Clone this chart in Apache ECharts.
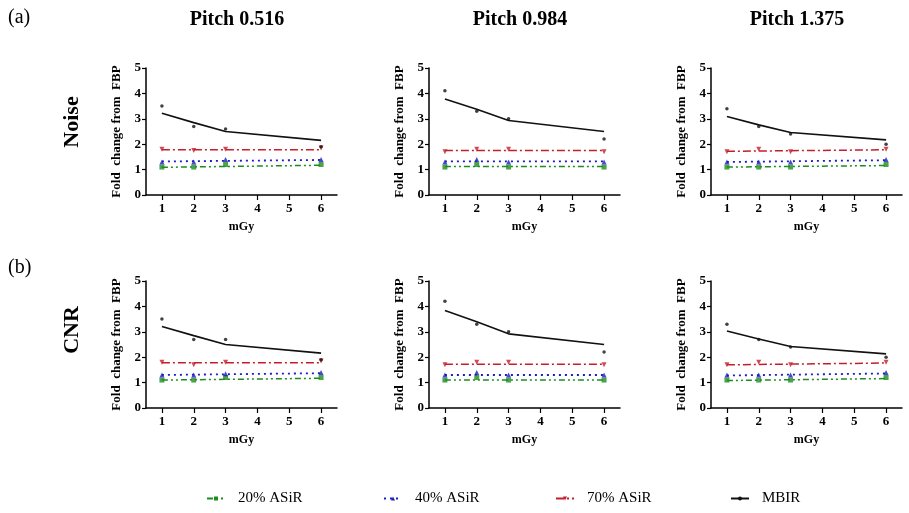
<!DOCTYPE html>
<html>
<head>
<meta charset="utf-8">
<script src="https://cdn.jsdelivr.net/npm/echarts@6/dist/echarts.min.js"></script>
<style>html,body{margin:0;padding:0;background:#fff;}#c{width:909px;height:513px;}</style>
</head>
<body>
<div id="c"></div>
<script>
// ---- data ----
const doses = [1, 2, 3, 6];
const fitDosesAsir = [1, 6];
const fitDosesMbir = [1, 2, 3, 6];
const doseTicks = [1, 2, 3, 4, 5, 6];
const yTicks = [0, 1, 2, 3, 4, 5];
const seriesNames = ['20% ASiR', '40% ASiR', '70% ASiR', 'MBIR'];
const pitchTitles = ['Pitch 0.516', 'Pitch 0.984', 'Pitch 1.375'];
const rowTitles = ['Noise', 'CNR'];
const panelTags = ['(a)', '(b)'];

// Noise, pitch 0.516
const noiseP0516_20 = [1.1, 1.1, 1.2, 1.2];
const noiseP0516_40 = [1.3, 1.3, 1.4, 1.4];
const noiseP0516_70 = [1.8, 1.75, 1.8, 1.85];
const noiseP0516_mbir = [3.5, 2.7, 2.6, 1.9];
const noiseP0516_fit20 = [1.09, 1.17];
const noiseP0516_fit40 = [1.32, 1.38];
const noiseP0516_fit70 = [1.78, 1.78];
const noiseP0516_fitMbir = [3.22, 2.85, 2.5, 2.15];
// Noise, pitch 0.984
const noiseP0984_20 = [1.1, 1.2, 1.1, 1.1];
const noiseP0984_40 = [1.3, 1.4, 1.3, 1.3];
const noiseP0984_70 = [1.7, 1.8, 1.8, 1.7];
const noiseP0984_mbir = [4.1, 3.3, 3.0, 2.2];
const noiseP0984_fit20 = [1.12, 1.12];
const noiseP0984_fit40 = [1.32, 1.32];
const noiseP0984_fit70 = [1.75, 1.75];
const noiseP0984_fitMbir = [3.78, 3.38, 2.93, 2.5];
// Noise, pitch 1.375
const noiseP1375_20 = [1.1, 1.1, 1.1, 1.2];
const noiseP1375_40 = [1.3, 1.3, 1.3, 1.4];
const noiseP1375_70 = [1.7, 1.8, 1.7, 1.8];
const noiseP1375_mbir = [3.4, 2.7, 2.4, 2.0];
const noiseP1375_fit20 = [1.1, 1.16];
const noiseP1375_fit40 = [1.3, 1.37];
const noiseP1375_fit70 = [1.72, 1.78];
const noiseP1375_fitMbir = [3.09, 2.76, 2.46, 2.17];
// CNR, pitch 0.516
const cnrP0516_20 = [1.1, 1.1, 1.2, 1.2];
const cnrP0516_40 = [1.3, 1.3, 1.35, 1.4];
const cnrP0516_70 = [1.8, 1.7, 1.8, 1.85];
const cnrP0516_mbir = [3.5, 2.7, 2.7, 1.9];
const cnrP0516_fit20 = [1.1, 1.17];
const cnrP0516_fit40 = [1.3, 1.37];
const cnrP0516_fit70 = [1.78, 1.78];
const cnrP0516_fitMbir = [3.21, 2.85, 2.5, 2.16];
// CNR, pitch 0.984
const cnrP0984_20 = [1.1, 1.2, 1.1, 1.1];
const cnrP0984_40 = [1.3, 1.4, 1.3, 1.3];
const cnrP0984_70 = [1.7, 1.8, 1.8, 1.7];
const cnrP0984_mbir = [4.2, 3.3, 3.0, 2.2];
const cnrP0984_fit20 = [1.1, 1.1];
const cnrP0984_fit40 = [1.3, 1.3];
const cnrP0984_fit70 = [1.72, 1.72];
const cnrP0984_fitMbir = [3.84, 3.4, 2.92, 2.5];
// CNR, pitch 1.375
const cnrP1375_20 = [1.1, 1.1, 1.1, 1.2];
const cnrP1375_40 = [1.3, 1.3, 1.3, 1.4];
const cnrP1375_70 = [1.7, 1.8, 1.7, 1.8];
const cnrP1375_mbir = [3.3, 2.7, 2.4, 2.0];
const cnrP1375_fit20 = [1.08, 1.16];
const cnrP1375_fit40 = [1.28, 1.36];
const cnrP1375_fit70 = [1.7, 1.77];
const cnrP1375_fitMbir = [3.03, 2.72, 2.42, 2.13];

// ---- assembly ----
const panels = [
  {pts: [noiseP0516_20, noiseP0516_40, noiseP0516_70, noiseP0516_mbir], fit: [noiseP0516_fit20, noiseP0516_fit40, noiseP0516_fit70, noiseP0516_fitMbir]},
  {pts: [noiseP0984_20, noiseP0984_40, noiseP0984_70, noiseP0984_mbir], fit: [noiseP0984_fit20, noiseP0984_fit40, noiseP0984_fit70, noiseP0984_fitMbir]},
  {pts: [noiseP1375_20, noiseP1375_40, noiseP1375_70, noiseP1375_mbir], fit: [noiseP1375_fit20, noiseP1375_fit40, noiseP1375_fit70, noiseP1375_fitMbir]},
  {pts: [cnrP0516_20, cnrP0516_40, cnrP0516_70, cnrP0516_mbir], fit: [cnrP0516_fit20, cnrP0516_fit40, cnrP0516_fit70, cnrP0516_fitMbir]},
  {pts: [cnrP0984_20, cnrP0984_40, cnrP0984_70, cnrP0984_mbir], fit: [cnrP0984_fit20, cnrP0984_fit40, cnrP0984_fit70, cnrP0984_fitMbir]},
  {pts: [cnrP1375_20, cnrP1375_40, cnrP1375_70, cnrP1375_mbir], fit: [cnrP1375_fit20, cnrP1375_fit40, cnrP1375_fit70, cnrP1375_fitMbir]}
];

const colors = ['#1e8c1e', '#1c1cc4', '#c41e2a', '#111111'];
const symbols = ['rect', 'triangle', 'triangle', 'circle'];
const symRot = [0, 0, 180, 0];
const symSize = [5, 5, 5, 3.5];
const dashes = [[6, 3, 2, 3, 2, 3], [2, 4], [8, 3, 2, 3], 'solid'];
const lineW = [1.5, 1.8, 1.5, 1.6];

const colLeft = [146, 429, 711];
const rowTop = [68, 281];
const gW = 191, gH = 127;
const serif = '"Liberation Serif", "Times New Roman", serif';

const grids = [], xAxes = [], yAxes = [], fitSeries = [], ptSeries = [];
panels.forEach((p, i) => {
  const r = Math.floor(i / 3), c = i % 3;
  grids.push({left: colLeft[c], top: rowTop[r], width: gW, height: gH});
  xAxes.push({
    gridIndex: i, type: 'value', min: 0.5, max: 6.5,
    name: 'mGy', nameLocation: 'middle', nameGap: 26,
    nameTextStyle: {fontFamily: serif, fontWeight: 'bold', fontSize: 12, color: '#000'},
    axisLine: {show: true, lineStyle: {color: '#000', width: 1.5}},
    axisTick: {show: true, length: 5, lineStyle: {color: '#000', width: 1.2}, customValues: doseTicks},
    axisLabel: {fontFamily: serif, fontWeight: 'bold', fontSize: 13, color: '#000', margin: 7, customValues: doseTicks},
    splitLine: {show: false}
  });
  yAxes.push({
    gridIndex: i, type: 'value', min: 0, max: 5, interval: 1,
    name: 'Fold  change from  FBP', nameLocation: 'middle', nameGap: 23,
    nameTextStyle: {fontFamily: serif, fontWeight: 'bold', fontSize: 13, color: '#000'},
    axisLine: {show: true, lineStyle: {color: '#000', width: 1.5}},
    axisTick: {show: true, length: 4, lineStyle: {color: '#000', width: 1.2}},
    axisLabel: {fontFamily: serif, fontWeight: 'bold', fontSize: 13, color: '#000', margin: 5},
    splitLine: {show: false}
  });
  for (let s = 0; s < 4; s++) {
    const fx = s === 3 ? fitDosesMbir : fitDosesAsir;
    fitSeries.push({
      type: 'line', name: seriesNames[s], xAxisIndex: i, yAxisIndex: i,
      data: p.fit[s].map((v, k) => [fx[k], v]),
      showSymbol: false, symbol: symbols[s], symbolSize: symSize[s], symbolRotate: symRot[s],
      itemStyle: {color: colors[s]},
      lineStyle: {color: colors[s], width: lineW[s], type: dashes[s]},
      silent: true, animation: false, z: 2
    });
    ptSeries.push({
      type: 'scatter', name: seriesNames[s], xAxisIndex: i, yAxisIndex: i,
      data: p.pts[s].map((v, k) => [doses[k], v]),
      symbol: symbols[s], symbolSize: symSize[s], symbolRotate: symRot[s],
      itemStyle: {color: colors[s]}, silent: true, animation: false, z: 3
    });
  }
});

const legendLefts = [201, 378, 550, 725];
const legends = seriesNames.map((n, k) => ({
  left: legendLefts[k], top: 486, itemWidth: 18, itemHeight: 5,
  data: [{name: n}], selectedMode: false,
  textStyle: {fontFamily: serif, fontSize: 15, color: '#000', padding: [0, 0, 0, 8]}
}));

const graphics = [];
const titleX = [237, 520, 797];
pitchTitles.forEach((t, k) => graphics.push({
  type: 'text', x: titleX[k], y: 20,
  style: {text: t, font: 'bold 20px ' + serif, fill: '#000', textAlign: 'center', textVerticalAlign: 'middle'}
}));
const tagY = [18, 268];
panelTags.forEach((t, k) => graphics.push({
  type: 'text', x: 8, y: tagY[k],
  style: {text: t, font: '20px ' + serif, fill: '#000', textAlign: 'left', textVerticalAlign: 'middle'}
}));
const rowY = [122, 330];
rowTitles.forEach((t, k) => graphics.push({
  type: 'text', x: 72, y: rowY[k], rotation: Math.PI / 2,
  style: {text: t, font: 'bold 22px ' + serif, fill: '#000', textAlign: 'center', textVerticalAlign: 'middle'}
}));

const chart = echarts.init(document.getElementById('c'), null, {renderer: 'canvas'});
chart.setOption({
  animation: false,
  backgroundColor: '#fff',
  grid: grids, xAxis: xAxes, yAxis: yAxes,
  legend: legends,
  graphic: graphics,
  series: fitSeries.concat(ptSeries)
});
</script>
</body>
</html>
